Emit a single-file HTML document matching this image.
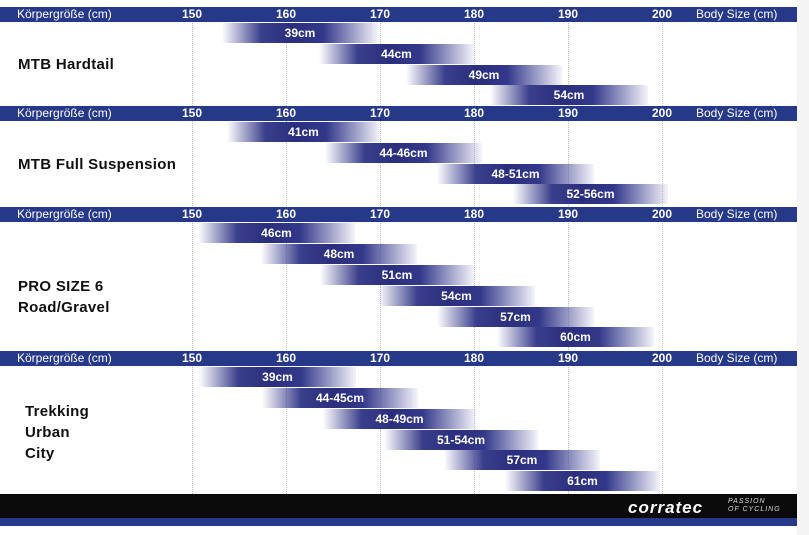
<!DOCTYPE html><html><head><style>
body{margin:0;width:809px;height:535px;background:#fff;position:relative;overflow:hidden;font-family:"Liberation Sans","DejaVu Sans",sans-serif}
.h{position:absolute;left:0;width:797px;height:15px;background:#263888;color:#fff;font-size:12px;line-height:15px}
.h span{position:absolute;top:0}
.h b{position:absolute;top:0;width:40px;margin-left:-20px;text-align:center;font-size:12px}
.g{position:absolute;top:8px;height:486px;border-left:1px dotted #bbb;width:0}
.bar{position:absolute;height:20px;background:linear-gradient(to right,rgba(255,255,255,0) 0%,#3a3f8c 25%,#2a2e7c 45%,#33388a 65%,rgba(220,220,240,0.3) 100%);color:#fff;font-weight:bold;font-size:12px;line-height:20px;text-align:center}
.t{position:absolute;left:18px;font-size:15px;font-weight:bold;color:#111;line-height:21px;letter-spacing:.3px}
</style></head><body>
<div class="g" style="left:192px"></div><div class="g" style="left:286px"></div><div class="g" style="left:380px"></div><div class="g" style="left:474px"></div><div class="g" style="left:568px"></div><div class="g" style="left:662px"></div>
<div class="h" style="top:7px"><span style="left:17px">Körpergröße (cm)</span><b style="left:192px">150</b><b style="left:286px">160</b><b style="left:380px">170</b><b style="left:474px">180</b><b style="left:568px">190</b><b style="left:662px">200</b><span style="left:696px">Body Size (cm)</span></div>
<div class="h" style="top:106px"><span style="left:17px">Körpergröße (cm)</span><b style="left:192px">150</b><b style="left:286px">160</b><b style="left:380px">170</b><b style="left:474px">180</b><b style="left:568px">190</b><b style="left:662px">200</b><span style="left:696px">Body Size (cm)</span></div>
<div class="h" style="top:207px"><span style="left:17px">Körpergröße (cm)</span><b style="left:192px">150</b><b style="left:286px">160</b><b style="left:380px">170</b><b style="left:474px">180</b><b style="left:568px">190</b><b style="left:662px">200</b><span style="left:696px">Body Size (cm)</span></div>
<div class="h" style="top:351px"><span style="left:17px">Körpergröße (cm)</span><b style="left:192px">150</b><b style="left:286px">160</b><b style="left:380px">170</b><b style="left:474px">180</b><b style="left:568px">190</b><b style="left:662px">200</b><span style="left:696px">Body Size (cm)</span></div>
<div class="t" style="top:54px">MTB Hardtail</div>
<div class="t" style="top:154px">MTB Full Suspension</div>
<div class="t" style="top:276px">PRO SIZE 6<br>Road/Gravel</div>
<div class="t" style="top:401px;left:25px">Trekking<br>Urban<br>City</div>
<div class="bar" style="left:222px;width:156px;top:23px">39cm</div>
<div class="bar" style="left:319px;width:155px;top:44px">44cm</div>
<div class="bar" style="left:406px;width:156px;top:65px">49cm</div>
<div class="bar" style="left:490px;width:158px;top:85px">54cm</div>
<div class="bar" style="left:227px;width:153px;top:122px">41cm</div>
<div class="bar" style="left:325px;width:157px;top:143px">44-46cm</div>
<div class="bar" style="left:437px;width:157px;top:164px">48-51cm</div>
<div class="bar" style="left:513px;width:155px;top:184px">52-56cm</div>
<div class="bar" style="left:198px;width:157px;top:223px">46cm</div>
<div class="bar" style="left:261px;width:156px;top:244px">48cm</div>
<div class="bar" style="left:320px;width:154px;top:265px">51cm</div>
<div class="bar" style="left:378px;width:157px;top:286px">54cm</div>
<div class="bar" style="left:437px;width:157px;top:307px">57cm</div>
<div class="bar" style="left:497px;width:157px;top:327px">60cm</div>
<div class="bar" style="left:199px;width:157px;top:367px">39cm</div>
<div class="bar" style="left:262px;width:156px;top:388px">44-45cm</div>
<div class="bar" style="left:323px;width:153px;top:409px">48-49cm</div>
<div class="bar" style="left:384px;width:154px;top:430px">51-54cm</div>
<div class="bar" style="left:444px;width:156px;top:450px">57cm</div>
<div class="bar" style="left:505px;width:155px;top:471px">61cm</div>
<div style="position:absolute;left:0;top:494px;width:797px;height:24px;background:#0a0a0a"></div>
<div style="position:absolute;left:0;top:518px;width:797px;height:8px;background:#263888"></div>
<div style="position:absolute;left:628px;top:498px;color:#fff;font-style:italic;font-weight:bold;font-size:17px;letter-spacing:1px">corratec</div>
<div style="position:absolute;left:728px;top:498px;color:#ddd;font-style:italic;font-size:7px;line-height:8px;letter-spacing:1px">PASSION<br>OF CYCLING</div>
<div style="position:absolute;left:797px;top:0;width:12px;height:535px;background:#f4f4f4"></div>
</body></html>
